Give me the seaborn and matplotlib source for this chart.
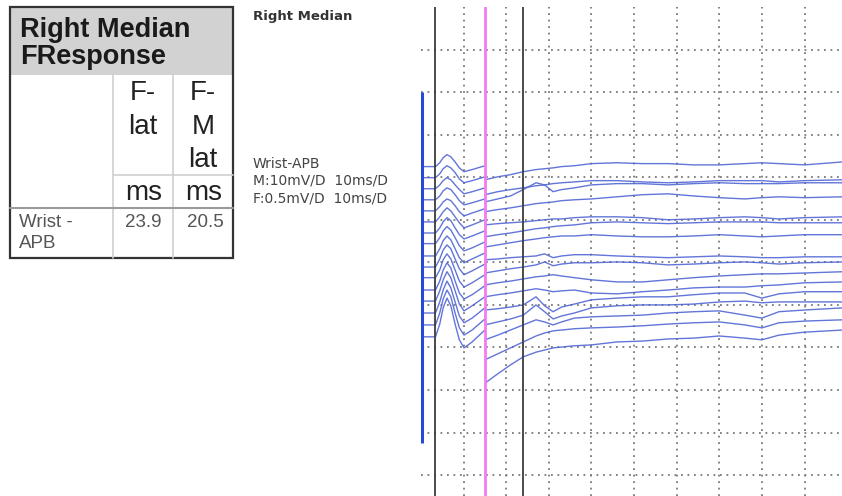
import numpy as np
import pandas as pd
import matplotlib.pyplot as plt
from matplotlib.patches import Rectangle
import seaborn as sns

# Werte aus der Tabelle
nerve = "Right Median"
study = "FResponse"
site = "Wrist -\nAPB"
f_lat = 23.9      # ms
fm_lat = 20.5     # ms
m_lat = round(f_lat - fm_lat, 1)   # M-Antwort-Latenz
gain_split = 15.0  # ms, ab hier F-Verstaerkung

t_m = [0, 3.4, 4.4, 5.2, 6.1, 7.0, 8.0, 9.0, 10.1, 12.0, 15.0]
t_f = [15, 18, 21, 24, 27, 29, 31, 33, 36, 40, 46, 52, 58, 64, 70, 76, 80, 84, 90, 99]

# M-Antwort je Spur (Divisionen)
m_traces = [
    [7.25, 7.25, 7.34, 7.46, 7.53, 7.48, 7.36, 7.22, 7.13, 7.18, 7.27],
    [6.99, 6.99, 7.08, 7.20, 7.27, 7.22, 7.11, 6.96, 6.87, 6.92, 7.01],
    [6.73, 6.73, 6.82, 6.92, 6.99, 6.94, 6.82, 6.71, 6.61, 6.66, 6.75],
    [6.47, 6.47, 6.56, 6.68, 6.75, 6.71, 6.59, 6.45, 6.35, 6.40, 6.49],
    [6.21, 6.21, 6.31, 6.42, 6.49, 6.45, 6.33, 6.19, 6.09, 6.16, 6.26],
    [5.95, 5.95, 6.07, 6.19, 6.28, 6.21, 6.07, 5.93, 5.81, 5.88, 6.00],
    [5.69, 5.69, 5.81, 5.95, 6.05, 5.98, 5.81, 5.65, 5.55, 5.62, 5.74],
    [5.44, 5.44, 5.58, 5.74, 5.84, 5.76, 5.58, 5.39, 5.27, 5.34, 5.48],
    [5.15, 5.15, 5.32, 5.51, 5.62, 5.53, 5.32, 5.11, 4.99, 5.08, 5.22],
    [4.89, 4.89, 5.08, 5.29, 5.41, 5.32, 5.08, 4.85, 4.71, 4.80, 4.96],
    [4.64, 4.64, 4.82, 5.06, 5.20, 5.08, 4.82, 4.56, 4.42, 4.52, 4.71],
    [4.35, 4.35, 4.56, 4.82, 4.99, 4.87, 4.56, 4.28, 4.14, 4.24, 4.45],
    [4.09, 4.09, 4.33, 4.59, 4.78, 4.64, 4.33, 4.02, 3.86, 3.98, 4.19],
    [3.81, 3.81, 4.07, 4.35, 4.56, 4.40, 4.07, 3.74, 3.58, 3.69, 3.93],
    [3.53, 3.53, 3.81, 4.14, 4.35, 4.19, 3.81, 3.46, 3.29, 3.41, 3.67],
    [3.25, 3.25, 3.55, 3.93, 4.16, 3.98, 3.55, 3.18, 2.99, 3.13, 3.41],
]

# F-Antwort je Spur (Divisionen)
f_traces = [
    [6.94, 7.01, 7.06, 7.13, 7.18, 7.20, 7.22, 7.25, 7.27, 7.32, 7.34, 7.32, 7.32, 7.29, 7.29, 7.32, 7.34, 7.32, 7.29, 7.36],
    [6.59, 6.66, 6.71, 6.75, 6.80, 6.82, 6.85, 6.87, 6.89, 6.92, 6.92, 6.89, 6.87, 6.89, 6.92, 6.92, 6.92, 6.89, 6.92, 6.94],
    [6.42, 6.49, 6.56, 6.71, 6.87, 6.82, 6.66, 6.71, 6.75, 6.82, 6.85, 6.85, 6.82, 6.85, 6.87, 6.85, 6.85, 6.85, 6.87, 6.87],
    [6.19, 6.24, 6.28, 6.33, 6.38, 6.40, 6.42, 6.45, 6.47, 6.49, 6.54, 6.59, 6.61, 6.56, 6.52, 6.49, 6.52, 6.54, 6.52, 6.54],
    [5.88, 5.91, 5.93, 5.95, 5.98, 6.00, 6.02, 6.02, 6.05, 6.07, 6.07, 6.05, 6.00, 6.02, 6.05, 6.07, 6.05, 6.02, 6.05, 6.07],
    [5.60, 5.65, 5.69, 5.74, 5.79, 5.81, 5.84, 5.86, 5.88, 5.93, 5.95, 5.93, 5.91, 5.93, 5.95, 5.95, 5.95, 5.93, 5.93, 5.93],
    [5.36, 5.41, 5.46, 5.51, 5.55, 5.58, 5.60, 5.62, 5.62, 5.65, 5.62, 5.60, 5.60, 5.62, 5.65, 5.62, 5.60, 5.62, 5.65, 5.65],
    [5.06, 5.08, 5.11, 5.13, 5.15, 5.20, 5.11, 5.15, 5.18, 5.18, 5.15, 5.13, 5.11, 5.13, 5.15, 5.13, 5.11, 5.11, 5.13, 5.13],
    [4.75, 4.80, 4.85, 4.89, 4.94, 5.01, 4.92, 4.96, 4.99, 4.99, 5.01, 4.99, 4.94, 4.96, 4.99, 5.01, 4.99, 4.96, 4.99, 5.01],
    [4.47, 4.52, 4.56, 4.61, 4.66, 4.68, 4.71, 4.68, 4.64, 4.59, 4.54, 4.54, 4.59, 4.64, 4.68, 4.71, 4.73, 4.73, 4.75, 4.78],
    [4.19, 4.24, 4.28, 4.33, 4.38, 4.35, 4.31, 4.33, 4.35, 4.28, 4.26, 4.31, 4.35, 4.40, 4.42, 4.42, 4.45, 4.47, 4.52, 4.54],
    [3.88, 3.91, 3.95, 4.00, 4.19, 3.98, 3.84, 3.95, 4.02, 4.12, 4.16, 4.19, 4.19, 4.24, 4.28, 4.28, 4.16, 4.26, 4.31, 4.31],
    [3.53, 3.60, 3.67, 3.76, 4.00, 3.84, 3.67, 3.74, 3.81, 3.93, 3.98, 4.00, 4.00, 4.02, 4.07, 4.09, 4.05, 4.07, 4.07, 4.07],
    [3.18, 3.29, 3.41, 3.53, 3.65, 3.60, 3.53, 3.60, 3.69, 3.72, 3.74, 3.76, 3.81, 3.84, 3.86, 3.76, 3.69, 3.84, 3.88, 3.93],
    [2.71, 2.85, 2.99, 3.13, 3.27, 3.34, 3.39, 3.41, 3.44, 3.46, 3.48, 3.51, 3.55, 3.58, 3.60, 3.53, 3.46, 3.58, 3.62, 3.65],
    [2.16, 2.38, 2.59, 2.78, 2.89, 2.94, 2.99, 3.01, 3.04, 3.06, 3.13, 3.15, 3.20, 3.22, 3.27, 3.22, 3.18, 3.29, 3.36, 3.41],
]

stim_span = (0.75, 9.0)   # Stimulusmarke, Divisionen

# Langes Tabellenformat fuer seaborn
rows = []
for i, (m, f) in enumerate(zip(m_traces, f_traces)):
    rows += [(f"{i}m", t, v) for t, v in zip(t_m, m)]
    rows += [(f"{i}f", t, v) for t, v in zip(t_f, f)]
df = pd.DataFrame(rows, columns=["seg", "ms", "div"])

sns.set_style("white")
plt.rcParams["font.family"] = ["Liberation Sans", "DejaVu Sans"]

fig = plt.figure(figsize=(8.42, 4.96), dpi=100)

# Kurvenbereich
ax = fig.add_axes([421 / 842, 0, 421 / 842, 489 / 496])
ax.set_axisbelow(True)
sns.lineplot(data=df, x="ms", y="div", units="seg", estimator=None, sort=False,
             color="#5166d4", lw=1.0, alpha=0.9, legend=False, ax=ax)
ax.vlines(0.15, *stim_span, color="#2b49d8", lw=2.2, zorder=4)
ax.axvline(m_lat, color="#3c3c3c", lw=1.3)
ax.axvline(gain_split, color="#f27cf0", lw=2)
ax.axvline(f_lat, color="#3c3c3c", lw=1.3)

ax.set_xlim(0, 98.8)
ax.set_ylim(-0.49, 11.0)
ax.set_xticks(np.arange(10, 100, 10))
ax.set_yticks(np.arange(0, 11))
ax.tick_params(length=0, labelbottom=False, labelleft=False)
ax.grid(True, color="#7a7a7a", ls=(0, (1, 2.6)), lw=1.3)
ax.set_xlabel("")
ax.set_ylabel("")
for s in ax.spines.values():
    s.set_visible(False)

# Tabelle und Beschriftung (Layout in Pixeln)
ov = fig.add_axes([0, 0, 1, 1])
ov.set_xlim(0, 842)
ov.set_ylim(496, 0)
ov.axis("off")
ov.patch.set_visible(False)

ov.add_patch(Rectangle((10, 7), 223, 68, facecolor="#d2d2d2", edgecolor="none"))
ov.add_patch(Rectangle((10, 7), 223, 251, facecolor="none", edgecolor="#333333", lw=1.6))
for x in (113, 173):
    ov.plot([x, x], [75, 258], color="#cfcfcf", lw=1.2)
ov.plot([113, 233], [175, 175], color="#cfcfcf", lw=1.2)
ov.plot([10, 233], [208, 208], color="#9a9a9a", lw=1.5)

ov.text(20, 37, nerve, fontsize=19.5, fontweight="bold", color="#1a1a1a", va="baseline")
ov.text(20, 64, study, fontsize=19.5, fontweight="bold", color="#1a1a1a", va="baseline")
hdr = dict(fontsize=20, color="#222222", ha="center", va="baseline")
ov.text(143, 100, "F-", **hdr)
ov.text(143, 134, "lat", **hdr)
ov.text(203, 100, "F-", **hdr)
ov.text(203, 134, "M", **hdr)
ov.text(203, 167, "lat", **hdr)
ov.text(144, 200, "ms", **hdr)
ov.text(204, 200, "ms", **hdr)
cell = dict(fontsize=13.5, color="#555555", va="baseline")
ov.text(19, 227, site.split("\n")[0], **cell)
ov.text(19, 248, site.split("\n")[1], **cell)
ov.text(143, 227, f"{f_lat}", ha="center", **cell)
ov.text(205, 227, f"{fm_lat}", ha="center", **cell)

lab = dict(family=["DejaVu Sans"], fontsize=10, color="#444444", va="baseline")
ov.text(253, 20, nerve, fontweight="bold", **dict(lab, fontsize=9.5, color="#333333"))
ov.text(253, 168, "Wrist-APB", **lab)
ov.text(253, 185, "M:10mV/D  10ms/D", **lab)
ov.text(253, 202, "F:0.5mV/D  10ms/D", **lab)

fig.savefig("out.png", dpi=100)
